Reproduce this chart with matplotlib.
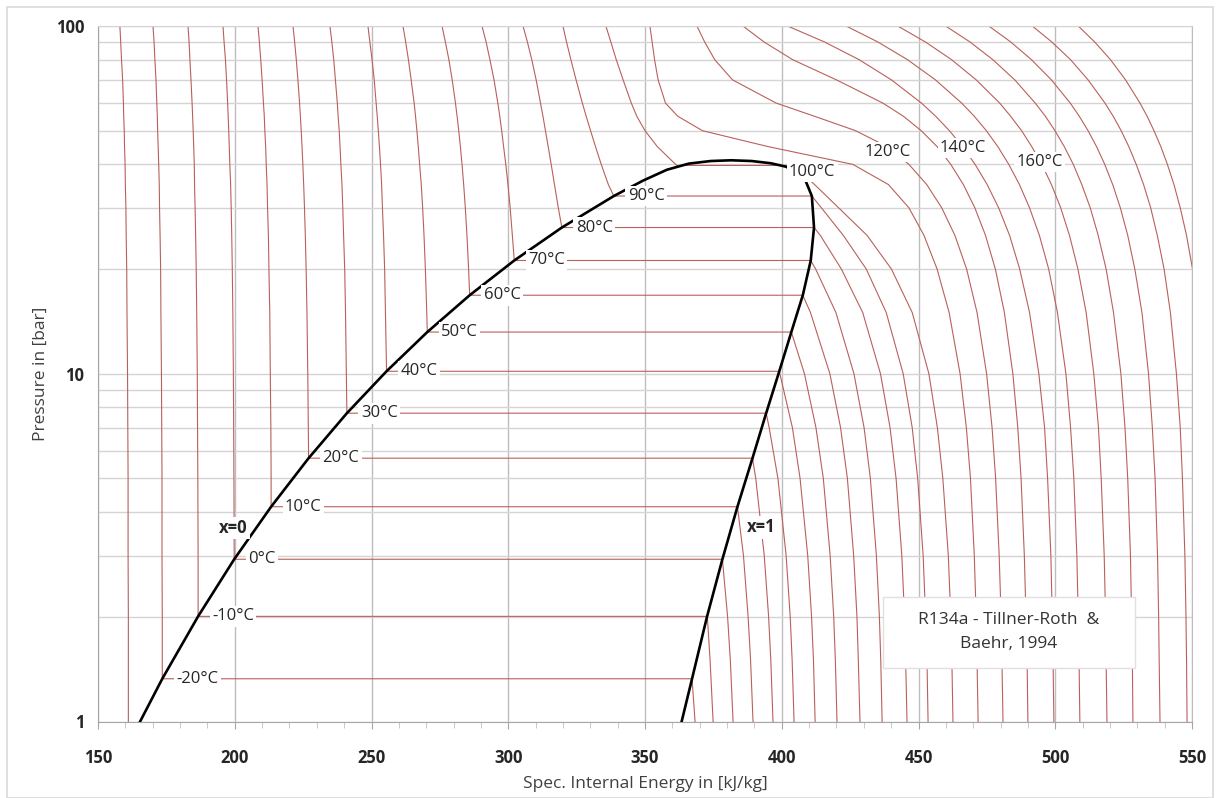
import matplotlib
matplotlib.use("Agg")
import matplotlib.pyplot as plt
from matplotlib.patches import Rectangle
from matplotlib.ticker import FixedLocator, NullFormatter

plt.rcParams['font.family'] = ['Open Sans', 'DejaVu Sans']

# ---------------- data ----------------
# pressure grid (bar) on which each isotherm's internal energy (kJ/kg) is read
P_GRID = [1, 1.5, 2, 3, 5, 7, 10, 15, 20, 25, 30, 35, 40, 45, 50, 55, 60, 70, 80, 90, 100]

u_m30 = [161.1, 161.1, 161.1, 161.0, 161.0, 160.9, 160.8, 160.6, 160.5, 160.3, 160.2, 160.0, 159.9, 159.7, 159.6, 159.4, 159.3, 159.0, 158.6, 158.3, 158.0]
u_m20 = [368.3, 173.5, 173.5, 173.4, 173.4, 173.3, 173.2, 173.0, 172.9, 172.7, 172.5, 172.4, 172.2, 172.0, 171.8, 171.7, 171.5, 171.2, 170.8, 170.5, 170.1]
u_m10 = [374.9, 373.8, 372.8, 186.6, 186.5, 186.4, 186.3, 186.1, 185.9, 185.7, 185.5, 185.3, 185.2, 185.0, 184.8, 184.6, 184.4, 184.0, 183.6, 183.3, 182.9]
u_0 = [382.2, 381.2, 380.2, 199.8, 199.7, 199.6, 199.5, 199.3, 199.1, 198.9, 198.7, 198.5, 198.2, 198.0, 197.8, 197.6, 197.4, 197.0, 196.6, 196.1, 195.7]
u_10 = [389.5, 388.6, 387.7, 386.0, 213.3, 213.2, 213.0, 212.8, 212.5, 212.3, 212.0, 211.8, 211.5, 211.3, 211.0, 210.8, 210.5, 210.0, 209.5, 209.0, 208.5]
u_20 = [396.8, 396.0, 395.2, 393.6, 390.5, 226.9, 226.7, 226.4, 226.1, 225.8, 225.5, 225.2, 224.9, 224.6, 224.3, 224.0, 223.7, 223.1, 222.5, 221.9, 221.3]
u_30 = [404.5, 403.8, 403.1, 401.6, 398.6, 395.4, 240.8, 240.5, 240.2, 239.8, 239.5, 239.2, 238.8, 238.5, 238.2, 237.8, 237.5, 236.8, 236.2, 235.5, 234.8]
u_40 = [412.2, 411.6, 410.9, 409.5, 406.7, 403.9, 399.3, 255.1, 254.8, 254.4, 254.0, 253.7, 253.3, 252.9, 252.5, 252.1, 251.7, 251.0, 250.2, 249.4, 248.7]
u_50 = [420.2, 419.6, 419.0, 417.7, 415.2, 412.5, 408.3, 270.2, 269.7, 269.2, 268.7, 268.2, 267.6, 267.1, 266.6, 266.1, 265.6, 264.5, 263.5, 262.5, 261.5]
u_60 = [428.6, 428.0, 427.5, 426.3, 424.0, 421.5, 417.6, 410.5, 285.5, 284.9, 284.3, 283.7, 283.1, 282.5, 281.9, 281.3, 280.7, 279.5, 278.3, 277.0, 275.8]
u_70 = [436.7, 436.2, 435.7, 434.6, 432.4, 430.1, 426.4, 419.8, 412.4, 301.5, 300.7, 299.9, 299.1, 298.3, 297.6, 296.9, 296.2, 294.8, 293.3, 291.9, 290.4]
u_80 = [445.8, 445.3, 444.9, 443.9, 441.8, 439.6, 436.1, 429.6, 421.8, 414.1, 318.3, 316.9, 315.7, 314.6, 313.6, 312.7, 311.8, 310.2, 308.6, 307.0, 305.4]
u_90 = [453.5, 453.1, 452.6, 451.7, 449.7, 447.7, 444.4, 438.2, 430.9, 422.5, 414.5, 336.6, 334.0, 331.9, 330.1, 328.5, 327.1, 324.8, 322.9, 321.3, 320.0]
u_100 = [462.6, 462.2, 461.8, 460.9, 458.9, 456.9, 453.8, 447.7, 440.1, 431.2, 420.8, 412.0, 361.2, 354.5, 350.0, 347.0, 345.0, 342.0, 339.5, 337.5, 335.7]
u_110 = [471.8, 471.4, 471.1, 470.4, 469.0, 467.5, 465.2, 461.2, 456.8, 452.0, 446.5, 439.0, 426.0, 395.0, 371.0, 362.0, 357.5, 354.8, 353.5, 352.6, 351.8]
u_120 = [480.9, 480.5, 480.2, 479.5, 478.2, 476.9, 474.9, 471.4, 467.6, 463.3, 458.5, 453.0, 446.5, 438.5, 427.0, 412.0, 398.0, 382.0, 375.5, 371.8, 369.0]
u_130 = [490.0, 489.7, 489.3, 488.7, 487.5, 486.3, 484.5, 481.4, 478.1, 474.5, 470.6, 466.4, 461.8, 456.8, 451.0, 444.5, 437.0, 420.0, 404.0, 393.5, 385.8]
u_140 = [499.5, 499.2, 498.9, 498.4, 497.2, 496.1, 494.0, 490.6, 487.0, 483.3, 479.3, 475.1, 470.7, 466.1, 461.3, 456.3, 451.1, 440.1, 428.3, 415.6, 402.1]
u_150 = [509.0, 508.7, 508.4, 507.9, 506.8, 505.6, 503.9, 500.8, 497.6, 494.2, 490.6, 486.9, 483.0, 479.0, 474.8, 470.4, 465.8, 456.2, 446.0, 435.1, 423.5]
u_160 = [518.9, 518.6, 518.4, 517.9, 516.8, 515.8, 514.1, 511.3, 508.3, 505.2, 502.0, 498.6, 495.1, 491.4, 487.7, 483.7, 479.7, 471.1, 462.1, 452.5, 442.4]
u_170 = [528.4, 528.2, 527.9, 527.5, 526.5, 525.5, 524.0, 521.3, 518.6, 515.7, 512.8, 509.7, 506.6, 503.3, 499.9, 496.4, 492.7, 485.2, 477.2, 468.8, 459.9]
u_180 = [538.3, 538.0, 537.8, 537.4, 536.5, 535.5, 534.1, 531.7, 529.1, 526.5, 523.8, 521.0, 518.1, 515.1, 512.0, 508.8, 505.5, 498.6, 491.3, 483.7, 475.7]
u_190 = [548.2, 548.0, 547.8, 547.4, 546.5, 545.7, 544.3, 542.1, 539.8, 537.3, 534.9, 532.3, 529.6, 526.9, 524.1, 521.2, 518.2, 512.0, 505.6, 498.7, 491.6]
u_200 = [558.0, 557.8, 557.6, 557.2, 556.4, 555.6, 554.4, 552.3, 550.2, 548.0, 545.7, 543.4, 541.0, 538.6, 536.1, 533.6, 531.0, 525.7, 520.2, 514.4, 508.4]

ISO_T = [-30, -20, -10, 0, 10, 20, 30, 40, 50, 60, 70, 80, 90, 100,
         110, 120, 130, 140, 150, 160, 170, 180, 190, 200]
ISO_U = [u_m30, u_m20, u_m10, u_0, u_10, u_20, u_30, u_40, u_50, u_60, u_70, u_80,
         u_90, u_100, u_110, u_120, u_130, u_140, u_150, u_160, u_170, u_180, u_190, u_200]

# saturation states
T_SAT = [-20, -10, 0, 10, 20, 30, 40, 50, 60, 70, 80, 90, 100]
P_SAT = [1.327, 2.006, 2.928, 4.146, 5.717, 7.702, 10.166, 13.18, 16.82, 21.17, 26.33, 32.44, 39.72]
U_LIQ = [173.5, 186.6, 199.8, 213.3, 227.0, 241.0, 255.5, 270.4, 285.9, 302.2, 319.6, 338.6, 361.6]
U_VAP = [367.2, 372.7, 378.3, 383.8, 389.3, 394.3, 399.1, 403.5, 407.7, 410.6, 411.8, 411.0, 404.2]

# two-phase dome (x=0 and x=1 lines)
DOME_U = [165.4, 173.5, 186.6, 199.8, 213.3, 227.0, 241.0, 255.5, 270.4, 285.9, 302.2, 319.6, 338.6,
          349.2, 358.0, 366.0, 374.0, 381.5, 389.0, 396.0, 401.5, 405.5, 408.7, 411.0, 411.8, 410.6,
          407.7, 403.5, 399.1, 394.3, 389.3, 383.8, 378.3, 372.7, 367.2, 363.4]
DOME_P = [1.0, 1.327, 2.006, 2.928, 4.146, 5.717, 7.702, 10.166, 13.18, 16.82, 21.17, 26.33, 32.44,
          35.9, 38.6, 40.2, 40.9, 41.1, 40.9, 40.3, 39.4, 38.0, 35.9, 32.44, 26.33, 21.17,
          16.82, 13.18, 10.166, 7.702, 5.717, 4.146, 2.928, 2.006, 1.327, 1.0]

# labels placed on the upper isotherms
EXTRA_LABELS = ['100°C', '120°C', '140°C', '160°C']
EXTRA_U = [411.1, 438.8, 466.3, 494.4]
EXTRA_P = [38.0, 43.4, 44.6, 40.6]

X_TICKS = [150, 200, 250, 300, 350, 400, 450, 500, 550]
Y_TICKS = [1, 10, 100]

# ---------------- figure ----------------
W, H = 1216, 798
fig = plt.figure(figsize=(W / 100, H / 100), dpi=100)
ax = fig.add_axes([98 / W, 1 - 721.5 / H, (1192 - 98) / W, (721.5 - 26) / H])

ax.set_yscale('log')
ax.set_xlim(150, 550)
ax.set_ylim(1, 100)

ISO_COLOR = '#b9605b'
sat_index = {t: i for i, t in enumerate(T_SAT)}

for T, ul in zip(ISO_T, ISO_U):
    if T in sat_index:
        i = sat_index[T]
        ps = P_SAT[i]
        vap = [(u, p) for p, u in zip(P_GRID, ul) if p < ps]
        liq = [(u, p) for p, u in zip(P_GRID, ul) if p > ps]
        pts = vap + [(U_VAP[i], ps), (U_LIQ[i], ps)] + liq
    else:
        pts = list(zip(ul, P_GRID))
    xs = [q[0] for q in pts]
    ys = [q[1] for q in pts]
    ax.plot(xs, ys, color=ISO_COLOR, lw=0.8, zorder=2, solid_joinstyle='round')

ax.plot(DOME_U, DOME_P, color='black', lw=1.9, zorder=3, solid_joinstyle='round')

lab_kw = dict(fontsize=12, color='#262626', zorder=5,
              bbox=dict(boxstyle='square,pad=0.14', fc='white', ec='none'))
for T, p, u in zip(T_SAT[:-1], P_SAT[:-1], U_LIQ[:-1]):
    ax.annotate(f'{T}°C', xy=(u, p), xytext=(10, 0), textcoords='offset points',
                ha='left', va='center', **lab_kw)
for s, u, p in zip(EXTRA_LABELS, EXTRA_U, EXTRA_P):
    ax.text(u, p, s, ha='center', va='center', **lab_kw)

ax.text(199.4, 3.60, 'x=0', ha='center', va='center', fontweight='bold', **lab_kw)
ax.text(392.4, 3.62, 'x=1', ha='center', va='center', fontweight='bold', **lab_kw)

# axes styling
ax.set_xticks(X_TICKS)
ax.set_xticklabels([str(v) for v in X_TICKS])
ax.xaxis.set_minor_locator(FixedLocator(list(range(150, 551, 10))))
ax.set_yticks(Y_TICKS)
ax.set_yticklabels([str(v) for v in Y_TICKS])
ax.yaxis.set_minor_locator(FixedLocator([2, 3, 4, 5, 6, 7, 8, 9, 20, 30, 40, 50, 60, 70, 80, 90]))
ax.yaxis.set_minor_formatter(NullFormatter())

ax.grid(True, axis='x', which='major', color='#bdbdbd', lw=1.0, zorder=0)
ax.grid(True, axis='y', which='both', color='#d4d4d4', lw=1.0, zorder=0)
ax.set_axisbelow(True)

ax.tick_params(axis='x', which='major', direction='out', length=5, color='#a6a6a6',
               labelsize=12, labelcolor='#262626', pad=15)
ax.tick_params(axis='x', which='minor', direction='out', length=4, color='#bfbfbf')
ax.tick_params(axis='y', which='both', length=0, labelsize=12, labelcolor='#262626', pad=10)
for lbl in ax.get_xticklabels() + ax.get_yticklabels():
    lbl.set_fontweight('bold')

ax.spines['left'].set_color('#a6a6a6')
ax.spines['bottom'].set_color('#a6a6a6')
ax.spines['top'].set_color('#d4d4d4')
ax.spines['right'].set_color('#bdbdbd')

ax.set_xlabel('Spec. Internal Energy in [kJ/kg]', fontsize=12.5, color='#404040', labelpad=6)
ax.set_ylabel('Pressure in [bar]', fontsize=12.5, color='#404040', labelpad=5)

# outer chart frame
fig.add_artist(Rectangle((7 / W, 0), (1213 - 7) / W, 1 - 7 / H, transform=fig.transFigure,
                         fill=False, ec='#d9d9d9', lw=1.2))

# info box
fig.add_artist(Rectangle((883 / W, 1 - 668 / H), (1135 - 883) / W, (668 - 597) / H,
                         transform=fig.transFigure, fc='white', ec='#e0e0e0', lw=1.0, zorder=4))
fig.text(1009 / W, 1 - 632 / H, 'R134a - Tillner-Roth  &\nBaehr, 1994', ha='center', va='center',
         fontsize=12.5, color='#333333', linespacing=1.7, zorder=5)

fig.savefig('out.png', dpi=100)
